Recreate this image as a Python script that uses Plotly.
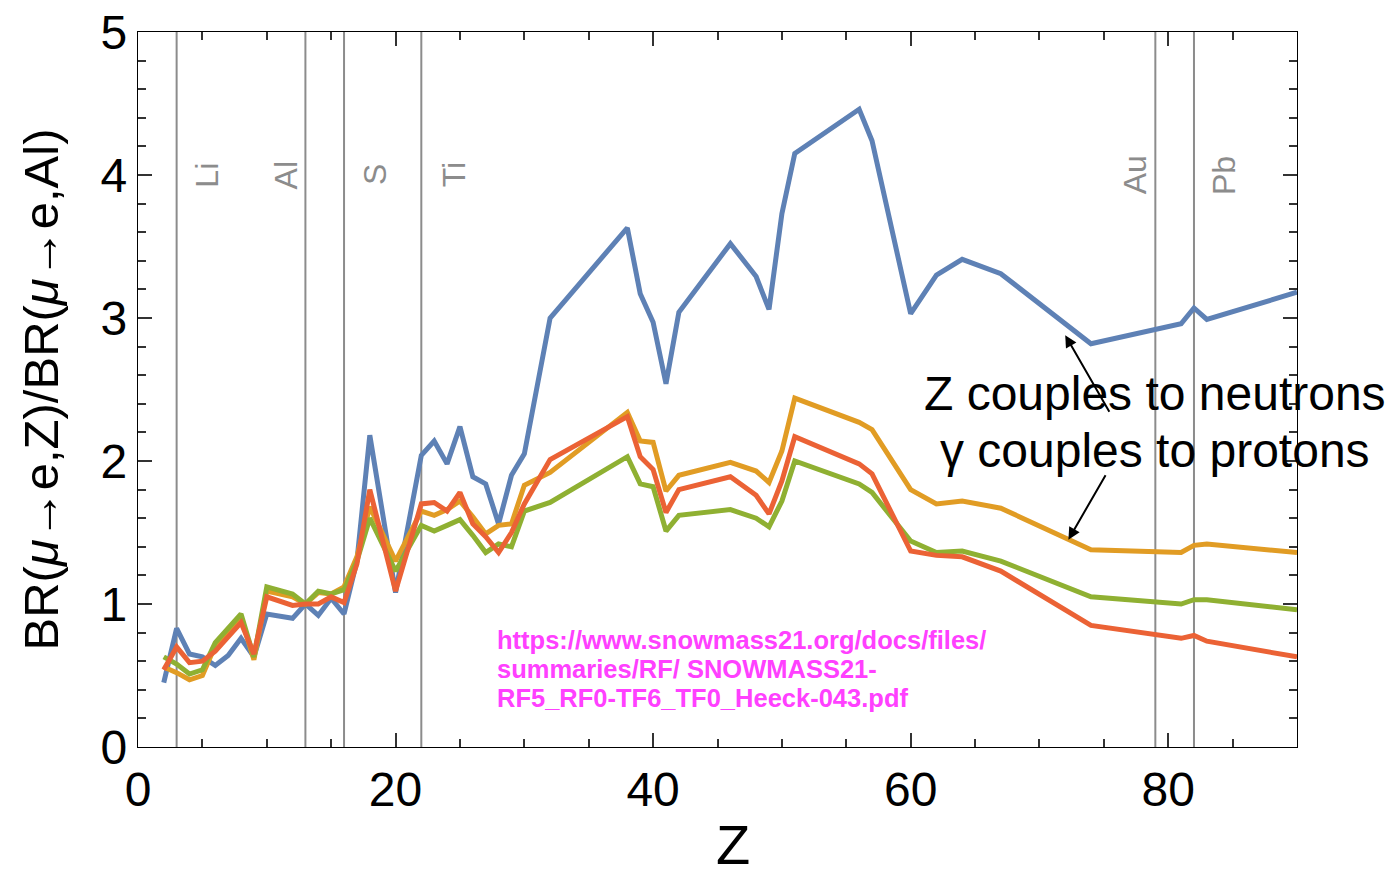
import plotly.graph_objects as go

# ---- data ----
Z = [2, 3, 4, 5, 6, 7, 8, 9, 10, 12, 13, 14, 15, 16, 17, 18, 20, 22, 23, 24, 25, 26, 27, 28,
     29, 30, 32, 38, 39, 40, 41, 42, 46, 48, 49, 50, 51, 56, 57, 60, 62, 64, 67, 74, 81, 82, 83, 90]

blue = [0.45, 0.83, 0.65, 0.63, 0.57, 0.64, 0.76, 0.63, 0.93, 0.90, 1.00, 0.92, 1.04, 0.93, 1.30, 2.18,
        1.08, 2.04, 2.14, 1.98, 2.24, 1.89, 1.84, 1.56, 1.90, 2.05, 3.00, 3.63, 3.17, 2.97, 2.54, 3.04,
        3.52, 3.29, 3.06, 3.73, 4.15, 4.46, 4.24, 3.03, 3.30, 3.41, 3.31, 2.82, 2.96, 3.07, 2.99, 3.18]

orange = [0.56, 0.52, 0.47, 0.50, 0.71, 0.81, 0.91, 0.61, 1.09, 1.05, 1.00, 1.08, 1.07, 1.12, 1.33, 1.68,
          1.30, 1.65, 1.62, 1.66, 1.72, 1.61, 1.49, 1.55, 1.56, 1.83, 1.92, 2.34, 2.14, 2.13, 1.79, 1.90,
          1.99, 1.93, 1.85, 2.07, 2.44, 2.27, 2.22, 1.80, 1.70, 1.72, 1.67, 1.38, 1.36, 1.41, 1.42, 1.36]

green = [0.63, 0.58, 0.51, 0.54, 0.73, 0.83, 0.93, 0.63, 1.12, 1.07, 1.00, 1.09, 1.07, 1.10, 1.30, 1.60,
         1.23, 1.55, 1.51, 1.55, 1.59, 1.48, 1.36, 1.42, 1.40, 1.65, 1.71, 2.03, 1.84, 1.82, 1.51, 1.62,
         1.66, 1.60, 1.54, 1.72, 2.00, 1.84, 1.78, 1.44, 1.36, 1.37, 1.30, 1.05, 1.00, 1.03, 1.03, 0.96]

red = [0.54, 0.70, 0.59, 0.60, 0.67, 0.77, 0.87, 0.65, 1.05, 0.99, 1.00, 1.00, 1.05, 1.01, 1.28, 1.80,
       1.09, 1.70, 1.71, 1.65, 1.78, 1.56, 1.47, 1.36, 1.50, 1.70, 2.01, 2.31, 2.03, 1.94, 1.64, 1.80,
       1.89, 1.76, 1.63, 1.86, 2.17, 1.98, 1.91, 1.37, 1.34, 1.33, 1.23, 0.85, 0.76, 0.78, 0.74, 0.63]

elem_Z = [3, 13, 16, 22, 79, 82]
elem_name = ["Li", "Al", "S", "Ti", "Au", "Pb"]
elem_shift = [30, -19, 31, 33, -20, 30]

x_ticks = [0, 20, 40, 60, 80]
y_ticks = [0, 1, 2, 3, 4, 5]

url_lines = ["https://www.snowmass21.org/docs/files/",
             "summaries/RF/ SNOWMASS21-",
             "RF5_RF0-TF6_TF0_Heeck-043.pdf"]

FONT = "Liberation Sans, Arial, Helvetica, sans-serif"
colors = ["#5E81B5", "#E19C24", "#8FB032", "#EB6235"]

fig = go.Figure()
for ys, c in zip([blue, orange, green, red], colors):
    fig.add_trace(go.Scatter(x=Z, y=ys, mode="lines",
                             line=dict(color=c, width=5), showlegend=False,
                             cliponaxis=True))

# element marker lines
for z in elem_Z:
    fig.add_shape(type="line", xref="x", yref="paper", x0=z, x1=z, y0=0, y1=1,
                  line=dict(color="#8c8c8c", width=2), layer="below")

for z, name, sh in zip(elem_Z, elem_name, elem_shift):
    fig.add_annotation(x=z, y=4.0, xref="x", yref="y", text=name, showarrow=False,
                       textangle=-90, xshift=sh, xanchor="center", yanchor="middle",
                       font=dict(family=FONT, size=32, color="#8c8c8c"))

# text annotations
fig.add_annotation(x=79, y=2.475, xref="x", yref="y", text="Z couples to neutrons",
                   showarrow=False, xanchor="center", yanchor="middle",
                   font=dict(family=FONT, size=48, color="black"))
fig.add_annotation(x=79, y=2.075, xref="x", yref="y", text="γ couples to protons",
                   showarrow=False, xanchor="center", yanchor="middle",
                   font=dict(family=FONT, size=48, color="black"))

# arrows
fig.add_annotation(x=72, y=2.88, xref="x", yref="y", ax=45, ay=78, text="",
                   showarrow=True, arrowhead=2, arrowsize=1.2, arrowwidth=2, arrowcolor="black")
fig.add_annotation(x=72.25, y=1.45, xref="x", yref="y", ax=38, ay=-66, text="",
                   showarrow=True, arrowhead=2, arrowsize=1.2, arrowwidth=2, arrowcolor="black")

# URL text
for t, yy in zip(url_lines, [0.745, 0.542, 0.340]):
    fig.add_annotation(x=27.7, y=yy, xref="x", yref="y", text="<b>" + t + "</b>",
                       showarrow=False, xanchor="left", yanchor="middle",
                       font=dict(family=FONT, size=25.5, color="#FF40FF"))

# x-axis title (placed as annotation for exact position)
fig.add_annotation(x=0.513, y=-0.183, xref="paper", yref="paper", text="Z",
                   showarrow=False, xanchor="center", yanchor="bottom",
                   font=dict(family=FONT, size=56, color="black"))

axis_common = dict(showgrid=False, zeroline=False, showline=True, linecolor="black",
                   linewidth=1.2, mirror="allticks", ticks="inside", ticklen=14,
                   tickwidth=1.5, tickcolor="#333",
                   tickfont=dict(family=FONT, size=48, color="black"))

fig.update_xaxes(range=[0, 90], tickvals=x_ticks, ticktext=[str(v) for v in x_ticks],
                 minor=dict(ticks="inside", dtick=5, tick0=0, ticklen=8, tickwidth=1.5, tickcolor="#333"),
                 **axis_common)
fig.update_yaxes(range=[0, 5], tickvals=y_ticks, ticktext=[str(v) for v in y_ticks],
                 minor=dict(ticks="inside", dtick=0.2, tick0=0, ticklen=8, tickwidth=1.5, tickcolor="#333"),
                 title=dict(text="BR(<i>μ</i>→e,Z)/BR(<i>μ</i>→e,Al)",
                            font=dict(family=FONT, size=49, color="black"), standoff=26),
                 **axis_common)

fig.update_layout(width=1391, height=879, plot_bgcolor="white", paper_bgcolor="white",
                  margin=dict(l=138, r=94, t=32, b=132, autoexpand=False))

fig.write_html("out.html")
